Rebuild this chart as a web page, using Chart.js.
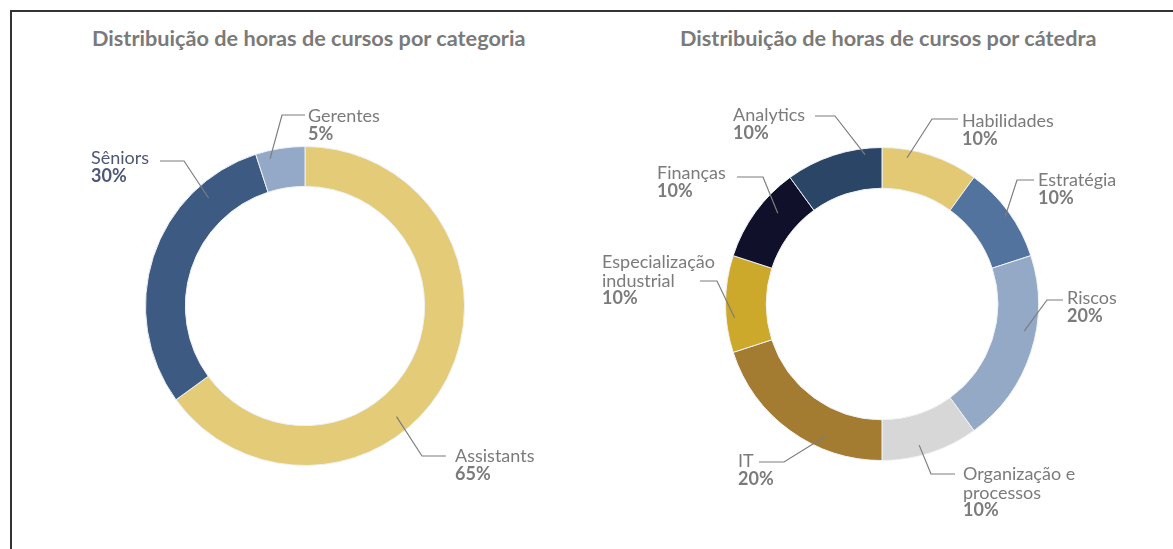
<!DOCTYPE html>
<html>
<head>
<meta charset="utf-8">
<script src="https://cdn.jsdelivr.net/npm/chart.js@4.4.1/dist/chart.umd.min.js"></script>
<style>
  html, body { margin: 0; padding: 0; background: #fff; }
  body { width: 1173px; height: 549px; position: relative; overflow: hidden; font-family: Lato, "Open Sans", sans-serif; }
  .frame { position: absolute; left: 10px; top: 10px; width: 1200px; height: 600px; border-top: 2px solid #333; border-left: 2px solid #333; }
  .title { position: absolute; top: 27px; font: bold 21.7px Lato, sans-serif; line-height: 22px; color: #7a7a7a; white-space: nowrap; }
  canvas { position: absolute; top: 0; }
</style>
</head>
<body>
<div class="frame"></div>
<div class="title" style="left:92px">Distribuição de horas de cursos por categoria</div>
<div class="title" style="left:680px">Distribuição de horas de cursos por cátedra</div>
<canvas id="catChart" width="586" height="549" style="left:0"></canvas>
<canvas id="catedraChart" width="587" height="549" style="left:586px"></canvas>
<script>
const categoryLabels = ["Assistants", "Sêniors", "Gerentes"];
const categoryHours = [65, 30, 5];
const categoryColors = ["#e4cb78", "#3d5a83", "#93a9c7"];

const catedraLabels = ["Habilidades", "Estratégia", "Riscos", ["Organização e", "processos"], "IT", ["Especialização", "industrial"], "Finanças", "Analytics"];
const catedraHours = [10, 10, 20, 10, 20, 10, 10, 10];
const catedraColors = ["#e4c974", "#53739f", "#93a9c6", "#d7d7d7", "#a37b31", "#cca82b", "#10102a", "#2b4567"];

// where each leader line starts inside its slice, and where it bends / ends relative to the ring centre
const categoryCallouts = [
  { at: 0.6, depth: 0.6, elbow: [117, 150], end: 141, text: [150, 156] },
  { at: 0.78, depth: 0.63, elbow: [-121, -145], end: -145, text: [-214, -142], color: "#4e5777" },
  { at: 0.26, depth: 0.8, elbow: [-23, -191], end: 0, text: [3, -184] }
];
const catedraCallouts = [
  { at: 0.27, depth: 0.8, elbow: [50, -185], end: 76, text: [80, -177] },
  { at: 0.52, depth: 0.86, elbow: [135, -124], end: 152, text: [156, -118] },
  { at: 0.4, depth: 0.71, elbow: [165, -4], end: 181, text: [185, 0] },
  { at: 0.59, depth: 0.74, elbow: [49, 170], end: 73, text: [81, 176] },
  { at: 0.32, depth: 0.68, elbow: [-98, 158], end: -123, text: [-144, 163] },
  { at: 0.35, depth: 0.79, elbow: [-165, -23], end: -182, text: [-280, -36] },
  { at: 0.64, depth: 0.55, elbow: [-119, -127], end: -145, text: [-225, -125] },
  { at: 0.82, depth: 0.85, elbow: [-47, -188], end: -67, text: [-149, -183] }
];

const calloutPlugin = {
  id: "callouts",
  afterDatasetsDraw(chart, args, opts) {
    const ctx = chart.ctx;
    const values = chart.data.datasets[0].data;
    const total = values.reduce((a, b) => a + b, 0);
    chart.getDatasetMeta(0).data.forEach((arc, i) => {
      const c = opts.items[i];
      if (!c) return;
      const p = arc.getProps(["x", "y", "startAngle", "endAngle", "innerRadius", "outerRadius"], true);
      const a = p.startAngle + (p.endAngle - p.startAngle) * c.at;
      const r = p.innerRadius + (p.outerRadius - p.innerRadius) * c.depth;
      const ex = p.x + c.elbow[0], ey = p.y + c.elbow[1];
      ctx.save();
      ctx.strokeStyle = "#7d7d7d";
      ctx.lineWidth = 1.2;
      ctx.beginPath();
      ctx.moveTo(p.x + Math.cos(a) * r, p.y + Math.sin(a) * r);
      ctx.lineTo(ex, ey);
      ctx.lineTo(p.x + c.end, ey);
      ctx.stroke();

      const lines = [].concat(chart.data.labels[i]);
      const tx = p.x + c.text[0];
      let ty = p.y + c.text[1];
      ctx.fillStyle = c.color || "#7b7b7b";
      ctx.textAlign = "left";
      ctx.textBaseline = "alphabetic";
      ctx.font = "18px Lato, sans-serif";
      lines.forEach(line => { ctx.fillText(line, tx, ty); ty += 18.5; });
      ctx.font = "bold 18px Lato, sans-serif";
      ctx.fillText(Math.round(values[i] / total * 100) + "%", tx, ty - 1);
      ctx.restore();
    });
  }
};

function makeDonut(id, labels, values, colors, callouts, padding, cutout) {
  return new Chart(document.getElementById(id), {
    type: "doughnut",
    data: {
      labels,
      datasets: [{ data: values, backgroundColor: colors, borderColor: "#eef1f5", borderWidth: 1 }]
    },
    options: {
      responsive: false,
      animation: false,
      cutout,
      layout: { padding },
      plugins: {
        legend: { display: false },
        tooltip: { enabled: false },
        callouts: { items: callouts }
      }
    },
    plugins: [calloutPlugin]
  });
}

makeDonut("catChart", categoryLabels, categoryHours, categoryColors, categoryCallouts,
  { left: 145, right: 121, top: 146, bottom: 83 }, "75%");
makeDonut("catedraChart", catedraLabels, catedraHours, catedraColors, catedraCallouts,
  { left: 139, right: 134, top: 147, bottom: 88 }, "74%");
</script>
</body>
</html>
